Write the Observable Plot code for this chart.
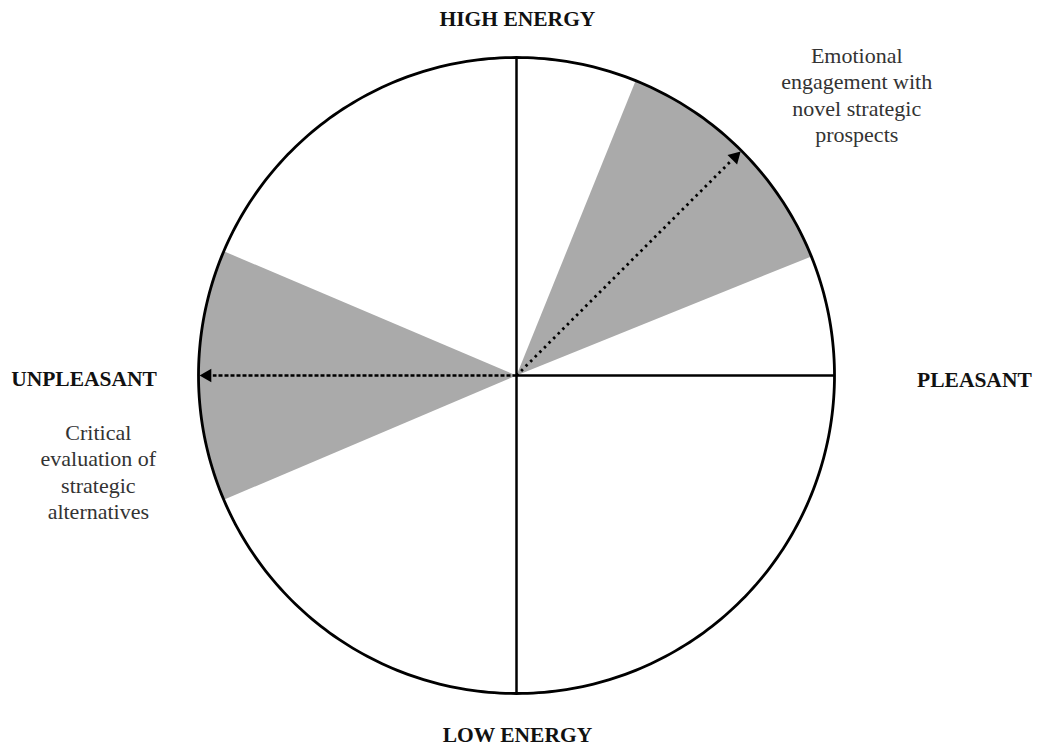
<!DOCTYPE html>
<html><head><meta charset="utf-8">
<script src="https://cdn.jsdelivr.net/npm/d3@7"></script>
<script src="https://cdn.jsdelivr.net/npm/@observablehq/plot@0.6"></script>
<style>body{margin:0;background:#fff}</style>
</head><body><div id="chart"></div>
<script>
// Axis poles and labels
const poleLabels = ["HIGH ENERGY", "PLEASANT", "LOW ENERGY", "UNPLEASANT"];
const poleX = [0.003, 1.44, 0.003, -1.36];
const poleY = [1.12, -0.015, -1.13, -0.01];

// Shaded emotional regions (start/end angles, degrees)
const wedgeNames = ["Emotional engagement with novel strategic prospects", "Critical evaluation of strategic alternatives"];
const wedgeStart = [22, 157];
const wedgeEnd = [68, 203];
const arrowAngle = [45, 180];

// Annotation texts
const noteTexts = ["Emotional\nengagement with\nnovel strategic\nprospects", "Critical\nevaluation of\nstrategic\nalternatives"];
const noteX = [1.07, -1.315];
const noteY = [0.885, -0.30];

const R = 1;
const rad = d => d * Math.PI / 180;
const wedgePts = [];
wedgeStart.forEach((s, i) => {
  wedgePts.push({w: i, x: 0, y: 0});
  for (let a = s; a <= wedgeEnd[i] + 1e-9; a += 1) wedgePts.push({w: i, x: R * Math.cos(rad(a)), y: R * Math.sin(rad(a))});
  wedgePts.push({w: i, x: 0, y: 0});
});
const circlePts = d3.range(0, 361, 1).map(a => ({x: Math.cos(rad(a)), y: Math.sin(rad(a))}));
const axes = [
  {x1: 0, y1: -1, x2: 0, y2: 1},
  {x1: 0, y1: 0, x2: 1, y2: 0}
];
const tipR = 0.955;
const arrows = arrowAngle.map(a => ({x1: 0, y1: 0, x2: tipR * Math.cos(rad(a)), y2: tipR * Math.sin(rad(a)), a}));
const heads = arrowAngle.map(a => ({x: 0.972 * Math.cos(rad(a)), y: 0.972 * Math.sin(rad(a)), rot: 90 - a}));
const poles = poleLabels.map((t, i) => ({t, x: poleX[i], y: poleY[i]}));
const notes = noteTexts.map((t, i) => ({t, x: noteX[i], y: noteY[i]}));

const W = 1038, H = 751, cx = 516, cy = 375, rp = 318;
const chart = Plot.plot({
  width: W, height: H,
  margin: 0,
  x: {domain: [-cx / rp, (W - cx) / rp], axis: null},
  y: {domain: [-(H - cy) / rp, cy / rp], axis: null},
  style: {fontFamily: "'Liberation Serif', 'DejaVu Serif', serif", background: "#fff"},
  marks: [
    Plot.line(wedgePts, {x: "x", y: "y", z: "w", fill: "#aaaaaa", stroke: "none"}),
    Plot.line(circlePts, {x: "x", y: "y", stroke: "#000", strokeWidth: 2.8}),
    Plot.link(axes, {x1: "x1", y1: "y1", x2: "x2", y2: "y2", stroke: "#000", strokeWidth: 2.5}),
    Plot.link(arrows.filter(d => d.a !== 180), {x1: "x1", y1: "y1", x2: "x2", y2: "y2", stroke: "#000", strokeWidth: 2.8, strokeDasharray: "2.5 4"}),
    Plot.link(arrows.filter(d => d.a === 180), {x1: "x1", y1: "y1", x2: "x2", y2: "y2", stroke: "#000", strokeWidth: 2.6, strokeDasharray: "4 2"}),
    Plot.dot(heads, {x: "x", y: "y", symbol: "triangle2", r: 6.5, fill: "#000", rotate: "rot"}),
    Plot.text(poles, {x: "x", y: "y", text: "t", fontWeight: "bold", fontSize: 21.5, fill: "#111"}),
    Plot.text(notes, {x: "x", y: "y", text: "t", fontSize: 22, fill: "#333", lineHeight: 1.2})
  ]
});
document.getElementById("chart").appendChild(chart);
</script>
</body></html>
